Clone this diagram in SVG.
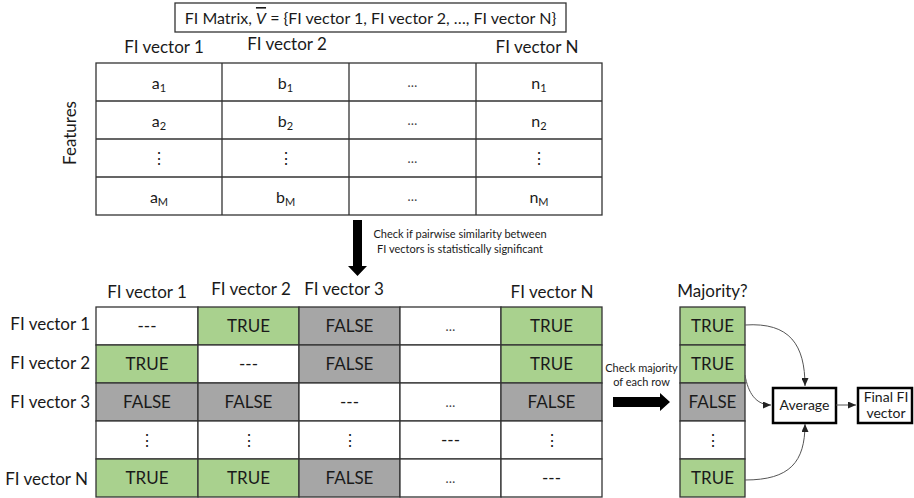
<svg xmlns="http://www.w3.org/2000/svg" width="914" height="498" viewBox="0 0 914 498">
<style>
text{font-family:Lato,"Liberation Sans",sans-serif;fill:#1a1a1a}
.hdr{font-size:17px;text-anchor:middle}
.rl{font-size:17px;text-anchor:end}
.c{font-size:16px;text-anchor:middle}
.tf{font-size:17px;text-anchor:middle}
.el{font-size:13px;text-anchor:middle;fill:#444}
.sm{font-size:11px;text-anchor:middle}
.grid{fill:none;stroke:#333;stroke-width:1.3}
.w{fill:#fff;stroke:#333;stroke-width:1.3}
.g{fill:#A9D18E;stroke:#333;stroke-width:1.3}
.k{fill:#A6A6A6;stroke:#333;stroke-width:1.3}
.box{fill:#fff;stroke:#000;stroke-width:2.5}
.con{fill:none;stroke:#555;stroke-width:1}
</style>
<defs>
<marker id="ah" markerWidth="8" markerHeight="7" refX="8" refY="3.5" orient="auto" markerUnits="userSpaceOnUse">
<path d="M0,0 L8,3.5 L0,7 z" fill="#222"/>
</marker>
</defs>

<g id="title">
<rect x="175" y="3" width="391" height="29" fill="#fff" stroke="#333" stroke-width="1.3"/>
<text x="370.5" y="24" font-size="16" text-anchor="middle">FI Matrix, <tspan font-style="italic" text-decoration="overline">V</tspan> = {FI vector 1, FI vector 2, …, FI vector N}</text>
</g>

<g id="top-table">
<text class="hdr" x="164" y="53">FI vector 1</text>
<text class="hdr" x="287" y="50">FI vector 2</text>
<text class="hdr" x="537" y="53">FI vector N</text>
<rect class="grid" x="96" y="63" width="506" height="152"/>
<path class="grid" d="M222,63V215M349,63V215M476,63V215M96,101H602M96,139H602M96,177H602"/>
<text class="c" x="159" y="89">a<tspan font-size="11" dy="3">1</tspan></text>
<text class="c" x="159" y="127">a<tspan font-size="11" dy="3">2</tspan></text>
<text class="c" x="159" y="164">⋮</text>
<text class="c" x="159" y="203">a<tspan font-size="11" dy="3">M</tspan></text>
<text class="c" x="285.5" y="89">b<tspan font-size="11" dy="3">1</tspan></text>
<text class="c" x="285.5" y="127">b<tspan font-size="11" dy="3">2</tspan></text>
<text class="c" x="285.5" y="164">⋮</text>
<text class="c" x="285.5" y="203">b<tspan font-size="11" dy="3">M</tspan></text>
<text class="el" x="412.5" y="87">…</text>
<text class="el" x="412.5" y="125">…</text>
<text class="el" x="412.5" y="163">…</text>
<text class="el" x="412.5" y="201">…</text>
<text class="c" x="539" y="89">n<tspan font-size="11" dy="3">1</tspan></text>
<text class="c" x="539" y="127">n<tspan font-size="11" dy="3">2</tspan></text>
<text class="c" x="539" y="164">⋮</text>
<text class="c" x="539" y="203">n<tspan font-size="11" dy="3">M</tspan></text>
</g>

<g id="features-label">
<text x="0" y="0" font-size="17" text-anchor="middle" transform="translate(76,133) rotate(-90)">Features</text>
</g>

<g id="similarity-step">
<polygon points="353,220 362,220 362,266 367,266 357.5,276 348,266 353,266" fill="#000"/>
<text class="sm" x="460" y="238">Check if pairwise similarity between</text>
<text class="sm" x="460" y="253">FI vectors is statistically significant</text>
</g>

<g id="pairwise-table">
<text class="hdr" x="147" y="298">FI vector 1</text>
<text class="hdr" x="251" y="295">FI vector 2</text>
<text class="hdr" x="344" y="295">FI vector 3</text>
<text class="hdr" x="552" y="298">FI vector N</text>
<text class="rl" x="90" y="330">FI vector 1</text>
<text class="rl" x="90" y="369">FI vector 2</text>
<text class="rl" x="90" y="408">FI vector 3</text>
<text class="rl" x="88" y="485">FI vector N</text>
<!-- row 1 -->
<rect class="w" x="96" y="307" width="102" height="38"/>
<rect class="g" x="198" y="307" width="101" height="38"/>
<rect class="k" x="299" y="307" width="101" height="38"/>
<rect class="w" x="400" y="307" width="101" height="38"/>
<rect class="g" x="501" y="307" width="101" height="38"/>
<!-- row 2 -->
<rect class="g" x="96" y="345" width="102" height="38"/>
<rect class="w" x="198" y="345" width="101" height="38"/>
<rect class="k" x="299" y="345" width="101" height="38"/>
<rect class="w" x="400" y="345" width="101" height="38"/>
<rect class="g" x="501" y="345" width="101" height="38"/>
<!-- row 3 -->
<rect class="k" x="96" y="383" width="102" height="38"/>
<rect class="k" x="198" y="383" width="101" height="38"/>
<rect class="w" x="299" y="383" width="101" height="38"/>
<rect class="w" x="400" y="383" width="101" height="38"/>
<rect class="k" x="501" y="383" width="101" height="38"/>
<!-- row 4 -->
<rect class="w" x="96" y="421" width="102" height="38"/>
<rect class="w" x="198" y="421" width="101" height="38"/>
<rect class="w" x="299" y="421" width="101" height="38"/>
<rect class="w" x="400" y="421" width="101" height="38"/>
<rect class="w" x="501" y="421" width="101" height="38"/>
<!-- row 5 -->
<rect class="g" x="96" y="459" width="102" height="38"/>
<rect class="g" x="198" y="459" width="101" height="38"/>
<rect class="k" x="299" y="459" width="101" height="38"/>
<rect class="w" x="400" y="459" width="101" height="38"/>
<rect class="w" x="501" y="459" width="101" height="38"/>

<text class="tf" x="147" y="332">---</text>
<text class="tf" x="248.5" y="332">TRUE</text>
<text class="tf" x="349.5" y="332">FALSE</text>
<text class="el" x="450.5" y="331">…</text>
<text class="tf" x="551.5" y="332">TRUE</text>

<text class="tf" x="147" y="370">TRUE</text>
<text class="tf" x="248.5" y="370">---</text>
<text class="tf" x="349.5" y="370">FALSE</text>
<text class="tf" x="551.5" y="370">TRUE</text>

<text class="tf" x="147" y="408">FALSE</text>
<text class="tf" x="248.5" y="408">FALSE</text>
<text class="tf" x="349.5" y="408">---</text>
<text class="el" x="450.5" y="407">…</text>
<text class="tf" x="551.5" y="408">FALSE</text>

<text class="c" x="147" y="446">⋮</text>
<text class="c" x="248.5" y="446">⋮</text>
<text class="c" x="349.5" y="446">⋮</text>
<text class="tf" x="450.5" y="446">---</text>
<text class="c" x="551.5" y="446">⋮</text>

<text class="tf" x="147" y="484">TRUE</text>
<text class="tf" x="248.5" y="484">TRUE</text>
<text class="tf" x="349.5" y="484">FALSE</text>
<text class="el" x="450.5" y="483">…</text>
<text class="tf" x="551.5" y="484">---</text>
</g>

<g id="majority-step">
<polygon points="613,397 660,397 660,393 670,402 660,411 660,407 613,407" fill="#000"/>
<text class="sm" x="641.5" y="372">Check majority</text>
<text class="sm" x="641.5" y="386">of each row</text>
</g>

<g id="majority-column">
<text class="hdr" x="712.5" y="297">Majority?</text>
<rect class="g" x="680" y="307" width="65" height="38"/>
<rect class="g" x="680" y="345" width="65" height="38"/>
<rect class="k" x="680" y="383" width="65" height="38"/>
<rect class="w" x="680" y="421" width="65" height="38"/>
<rect class="g" x="680" y="459" width="65" height="38"/>
<text class="tf" x="712.5" y="332">TRUE</text>
<text class="tf" x="712.5" y="370">TRUE</text>
<text class="tf" x="712.5" y="408">FALSE</text>
<text class="c" x="712.5" y="446">⋮</text>
<text class="tf" x="712.5" y="484">TRUE</text>
</g>

<g id="average">
<rect class="box" x="773" y="388" width="63" height="35"/>
<text x="804.5" y="410" font-size="14" text-anchor="middle">Average</text>
</g>

<g id="final-vector">
<rect class="box" x="858" y="388" width="54" height="35"/>
<text x="886" y="402" font-size="14" text-anchor="middle">Final FI</text>
<text x="886" y="418" font-size="14" text-anchor="middle">vector</text>
</g>

<g id="connectors">
<path class="con" d="M745,325 C790,322 805,345 805,386" marker-end="url(#ah)"/>
<path class="con" d="M745,375 C748,393 756,405 771,405" marker-end="url(#ah)"/>
<path class="con" d="M745,480 C790,480 805,462 805,424" marker-end="url(#ah)"/>
<path class="con" d="M836,405 L856,405" marker-end="url(#ah)"/>
</g>
</svg>
